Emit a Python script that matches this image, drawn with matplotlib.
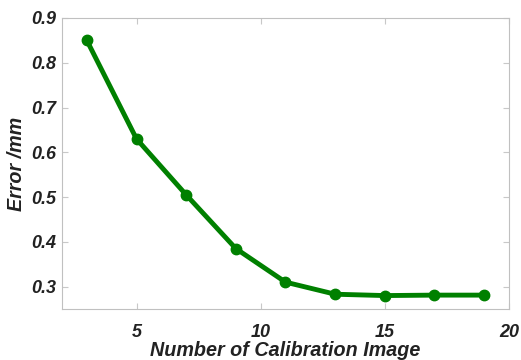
import matplotlib
matplotlib.use("Agg")
import matplotlib.pyplot as plt

num_images = [3, 5, 7, 9, 11, 13, 15, 17, 19]
error_mm = [0.850, 0.630, 0.505, 0.385, 0.310, 0.283, 0.280, 0.281, 0.281]
xticks = [5, 10, 15, 20]
yticks = [0.3, 0.4, 0.5, 0.6, 0.7, 0.8, 0.9]

plt.rcParams['font.family'] = ['Liberation Sans', 'DejaVu Sans']
fig = plt.figure(figsize=(5.21, 3.6), dpi=100)
ax = fig.add_axes([62/521, 1-309/360, (509-62)/521, (309-18)/360])
ax.plot(num_images, error_mm, color='#008000', lw=3.5, marker='o', ms=7.5)
ax.set_xlim(2, 20)
ax.set_ylim(0.25, 0.9)
ax.set_xticks(xticks)
ax.set_yticks(yticks)
ax.set_xticklabels([str(t) for t in xticks])
ax.set_yticklabels([f"{t:.1f}" for t in yticks])
for s in ax.spines.values():
    s.set_color('#c0c0c0')
ax.tick_params(direction='in', top=True, right=True, color='#c8c8c8', length=4,
               labelsize=13, labelcolor='#222222')
ax.tick_params(axis='x', pad=11)
ax.tick_params(axis='y', pad=4)
for lab in ax.get_xticklabels() + ax.get_yticklabels():
    lab.set_fontweight('bold')
    lab.set_fontstyle('italic')
ax.set_xlabel('Number of Calibration Image', fontsize=14.2, fontweight='bold', fontstyle='italic', color='#222222', labelpad=0)
ax.set_ylabel('Error /mm', fontsize=14.2, fontweight='bold', fontstyle='italic', color='#222222', labelpad=4)
fig.savefig('out.png', dpi=100)
